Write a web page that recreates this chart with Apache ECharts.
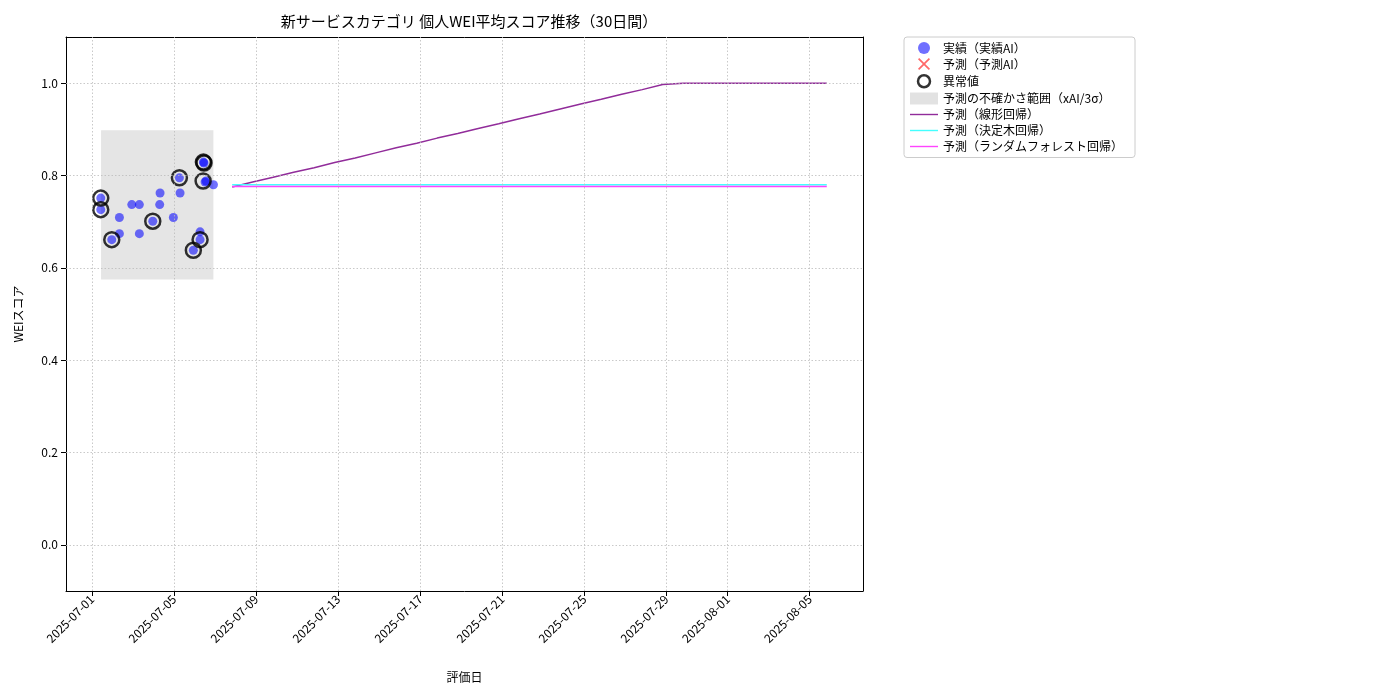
<!DOCTYPE html>
<html><head><meta charset="utf-8">
<script src="https://cdn.jsdelivr.net/npm/echarts@6/dist/echarts.min.js"></script>
<style>html,body{margin:0;padding:0;background:#fff}#c{width:1400px;height:700px}</style>
</head><body><div id="c"></div>
<script>
const actualDates = ['2025-07-01T10:11','2025-07-01T10:11','2025-07-01T23:04','2025-07-02T08:00','2025-07-02T08:00','2025-07-02T22:30','2025-07-03T07:22','2025-07-03T07:22','2025-07-03T23:04','2025-07-04T07:36','2025-07-04T07:10','2025-07-04T23:11','2025-07-05T06:14','2025-07-05T07:00','2025-07-06T10:19','2025-07-06T11:03','2025-07-06T13:27','2025-07-06T12:17','2025-07-06T22:05','2025-07-06T06:26','2025-07-06T06:26','2025-07-05T22:34'];
const actualValues = [0.751,0.726,0.661,0.709,0.674,0.737,0.737,0.674,0.701,0.762,0.737,0.709,0.795,0.762,0.829,0.827,0.788,0.786,0.780,0.678,0.661,0.638];
const outlierDates = ['2025-07-01T10:11','2025-07-01T10:11','2025-07-01T23:04','2025-07-03T23:04','2025-07-05T06:14','2025-07-06T10:19','2025-07-06T11:03','2025-07-06T10:00','2025-07-06T06:26','2025-07-05T22:34'];
const outlierValues = [0.751,0.726,0.661,0.701,0.795,0.829,0.827,0.788,0.661,0.638];
const forecastDates = ['2025-07-07T20:00','2025-07-08T20:00','2025-07-09T20:00','2025-07-10T20:00','2025-07-11T20:00','2025-07-12T20:00','2025-07-13T20:00','2025-07-14T20:00','2025-07-15T20:00','2025-07-16T20:00','2025-07-17T20:00','2025-07-18T20:00','2025-07-19T20:00','2025-07-20T20:00','2025-07-21T20:00','2025-07-22T20:00','2025-07-23T20:00','2025-07-24T20:00','2025-07-25T20:00','2025-07-26T20:00','2025-07-27T20:00','2025-07-28T20:00','2025-07-29T20:00','2025-07-30T20:00','2025-07-31T20:00','2025-08-01T20:00','2025-08-02T20:00','2025-08-03T20:00','2025-08-04T20:00','2025-08-05T20:00'];
const linearValues = [0.775,0.786,0.796,0.807,0.817,0.828,0.838,0.849,0.860,0.870,0.881,0.891,0.902,0.912,0.923,0.933,0.944,0.955,0.965,0.976,0.986,0.997,1.0,1.0,1.0,1.0,1.0,1.0,1.0,1.0];
const treeValues = [0.780,0.780,0.780,0.780,0.780,0.780,0.780,0.780,0.780,0.780,0.780,0.780,0.780,0.780,0.780,0.780,0.780,0.780,0.780,0.780,0.780,0.780,0.780,0.780,0.780,0.780,0.780,0.780,0.780,0.780];
const forestValues = [0.776,0.776,0.776,0.776,0.776,0.776,0.776,0.776,0.776,0.776,0.776,0.776,0.776,0.776,0.776,0.776,0.776,0.776,0.776,0.776,0.776,0.776,0.776,0.776,0.776,0.776,0.776,0.776,0.776,0.776];
const band = {start:'2025-07-01T10:32', end:'2025-07-06T22:00', low:0.575, high:0.898};
const xTicks = ['2025-07-01','2025-07-05','2025-07-09','2025-07-13','2025-07-17','2025-07-21','2025-07-25','2025-07-29','2025-08-01','2025-08-05'];
const yTicks = [0.0,0.2,0.4,0.6,0.8,1.0];
const xRange = ['2025-06-29T17:30','2025-08-07T14:24'];

const t = s => Date.parse(s + (s.length===10?'T00:00':'') + 'Z');
const pts = (d,v)=>d.map((x,i)=>[t(x),v[i]]);
const tickTs = xTicks.map(t);
const labelMap = {}; tickTs.forEach((v,i)=>labelMap[v]=xTicks[i]);
const font = '"Noto Sans CJK JP", sans-serif';
const X = 'path://M0,1L1,0L5,4L9,0L10,1L6,5L10,9L9,10L5,6L1,10L0,9L4,5Z';
const LINE = 'path://M0,0L30,0L30,1.5L0,1.5Z';
const gridLine = {color:'#bbb', type:[1.5,2], width:0.8};

const chart = echarts.init(document.getElementById('c'));
chart.setOption({
  animation:false,
  textStyle:{fontFamily:font},
  title:{text:'新サービスカテゴリ 個人WEI平均スコア推移（30日間）', left:464, top:9, textAlign:'center',
    textStyle:{fontSize:15, fontWeight:'normal', color:'#000', fontFamily:font}},
  grid:{left:66, right:537, top:37, bottom:109},
  legend:{orient:'vertical', left:904, top:37, itemGap:4, itemWidth:28, itemHeight:12,
    borderColor:'#ccc', borderWidth:1, borderRadius:3, padding:[5,12,5,6],
    textStyle:{fontSize:12, color:'#000', fontFamily:font},
    data:[
      {name:'実績（実績AI）', icon:'circle', itemStyle:{color:'rgba(0,0,255,0.7)'}},
      {name:'予測（予測AI）', icon:X, itemStyle:{color:'#ff4444'}},
      {name:'異常値', icon:'circle', itemStyle:{color:'transparent', borderColor:'#000', borderWidth:2.5}},
      {name:'予測の不確かさ範囲（xAI/3σ）', icon:'rect'},
      {name:'予測（線形回帰）', icon:LINE},{name:'予測（決定木回帰）', icon:LINE},{name:'予測（ランダムフォレスト回帰）', icon:LINE}]},
  xAxis:[{type:'value', min:t(xRange[0]), max:t(xRange[1]), splitLine:{show:false},
    name:'評価日', nameLocation:'middle', nameGap:80, nameTextStyle:{fontSize:12,color:'#000'},
    axisLine:{onZero:false, lineStyle:{color:'#000'}},
    axisTick:{customValues:tickTs, lineStyle:{color:'#000'}},
    axisLabel:{customValues:tickTs, rotate:45, color:'#000', fontSize:12, margin:6, formatter:v=>labelMap[v]||''}},
    {type:'value', position:'top', min:0, max:1, axisLine:{onZero:false, lineStyle:{color:'#000'}}, axisTick:{show:false}, axisLabel:{show:false}, splitLine:{show:false}}],
  yAxis:[{type:'value', min:-0.1, max:1.1, splitLine:{show:false},
    name:'WEIスコア', nameLocation:'middle', nameGap:42, nameTextStyle:{fontSize:12,color:'#000'},
    axisLine:{show:true, lineStyle:{color:'#000'}},
    axisTick:{show:true, customValues:yTicks, lineStyle:{color:'#000'}},
    axisLabel:{customValues:yTicks, color:'#000', fontSize:12, formatter:v=>v.toFixed(1)}},
    {type:'value', position:'right', min:0, max:1, axisLine:{show:true, onZero:false, lineStyle:{color:'#000'}}, axisTick:{show:false}, axisLabel:{show:false}, splitLine:{show:false}}],
  series:[
    {name:'grid', type:'line', data:[], silent:true,
      markLine:{symbol:'none', silent:true, label:{show:false}, lineStyle:gridLine,
        data:[...tickTs.map(v=>({xAxis:v})), ...yTicks.map(v=>({yAxis:v}))]}},
    {name:'予測の不確かさ範囲（xAI/3σ）', type:'line', data:[], itemStyle:{color:'rgba(160,160,160,0.3)'},
      markArea:{silent:true, itemStyle:{color:'rgba(150,150,150,0.25)'},
        data:[[{xAxis:t(band.start), yAxis:band.low},{xAxis:t(band.end), yAxis:band.high}]]}},
    {name:'予測（線形回帰）', type:'line', data:pts(forecastDates,linearValues), symbol:'none',
      itemStyle:{color:'#912c9a'}, lineStyle:{color:'#912c9a', width:1.5}},
    {name:'予測（決定木回帰）', type:'line', data:pts(forecastDates,treeValues), symbol:'none',
      itemStyle:{color:'#44ffff'}, lineStyle:{color:'#44ffff', width:1.5}},
    {name:'予測（ランダムフォレスト回帰）', type:'line', data:pts(forecastDates,forestValues), symbol:'none',
      itemStyle:{color:'#ff44ff'}, lineStyle:{color:'#ff44ff', width:1.5}},
    {name:'実績（実績AI）', type:'scatter', data:pts(actualDates,actualValues), symbolSize:9,
      itemStyle:{color:'rgba(0,0,255,0.7)'}},
    {name:'予測（予測AI）', type:'scatter', data:[], symbol:X, itemStyle:{color:'#ff4444'}},
    {name:'異常値', type:'scatter', data:pts(outlierDates,outlierValues), symbolSize:15,
      itemStyle:{color:'transparent', borderColor:'#000', borderWidth:2.5}}
  ]
});
</script></body></html>
